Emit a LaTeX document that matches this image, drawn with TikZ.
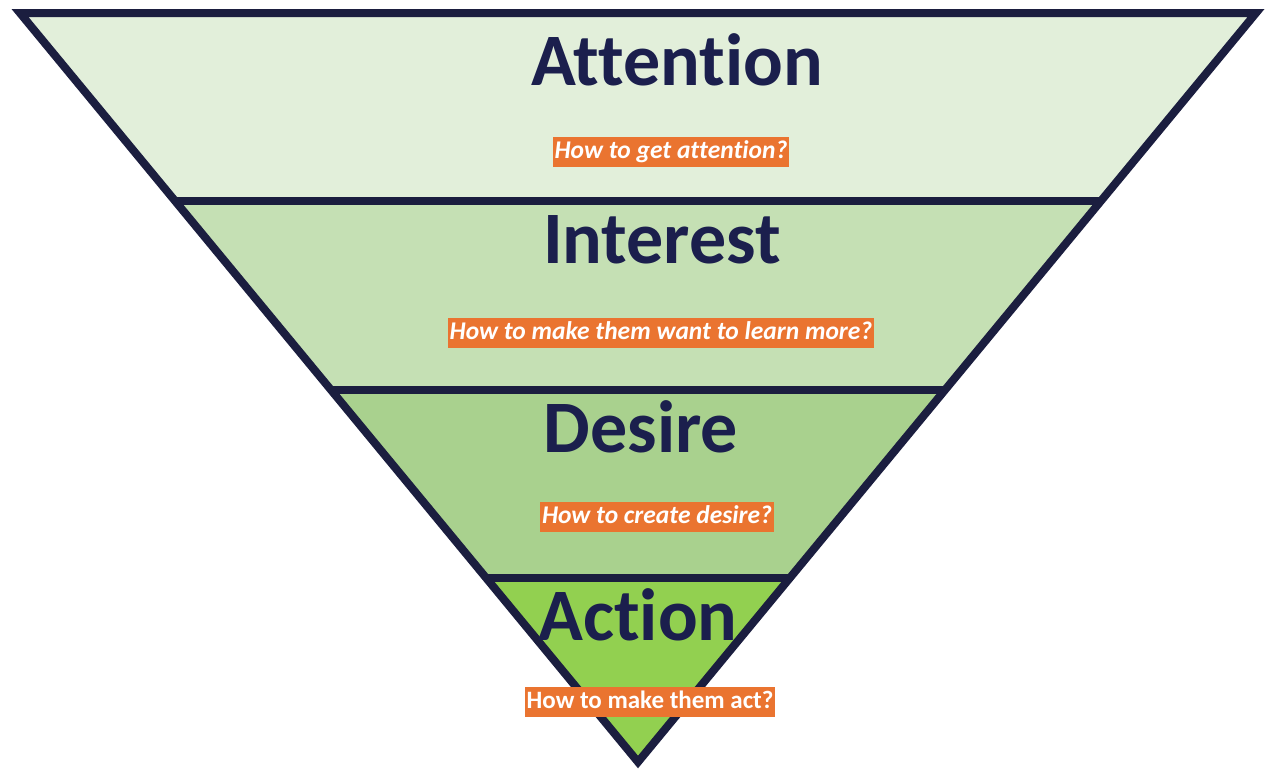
\documentclass[tikz,border=0pt]{standalone}
\usepackage{fontspec}
\setmainfont[Ligatures=NoCommon]{Carlito}
\usetikzlibrary{calc}
\definecolor{lineNavy}{HTML}{1B1E3F}
\definecolor{textNavy}{HTML}{1B1F4D}
\definecolor{bandA}{HTML}{E2EFDA}
\definecolor{bandB}{HTML}{C5E0B4}
\definecolor{bandC}{HTML}{A9D18E}
\definecolor{bandD}{HTML}{92D050}
\definecolor{qOrange}{HTML}{EA7430}
\begin{document}
\begin{tikzpicture}[x=1pt,y=-1pt,
  title/.style={anchor=base, inner sep=0pt, text=textNavy,
    font=\fontsize{74}{74}\selectfont\bfseries},
  question/.style={fill=qOrange, text=white, inner xsep=2pt, inner ysep=0pt,
    minimum height=30pt, text height=18pt, text depth=5pt,
    font=\fontsize{25.5}{25.5}\selectfont\bfseries\itshape},
  funnelline/.style={draw=lineNavy, line width=8pt}]
\useasboundingbox (0,0) rectangle (1268,772);

% funnel corners
\coordinate (TL) at (20,13);
\coordinate (TR) at (1256,13);
\coordinate (AP) at (638,762);

% band boundaries on the two slanted sides
\coordinate (L1) at ($(TL)!0.251!(AP)$);
\coordinate (R1) at ($(TR)!0.251!(AP)$);
\coordinate (L2) at ($(TL)!0.503!(AP)$);
\coordinate (R2) at ($(TR)!0.503!(AP)$);
\coordinate (L3) at ($(TL)!0.754!(AP)$);
\coordinate (R3) at ($(TR)!0.754!(AP)$);

% band fills
\fill[bandA] (TL) -- (TR) -- (R1) -- (L1) -- cycle;
\fill[bandB] (L1) -- (R1) -- (R2) -- (L2) -- cycle;
\fill[bandC] (L2) -- (R2) -- (R3) -- (L3) -- cycle;
\fill[bandD] (L3) -- (R3) -- (AP) -- cycle;

% outline and dividers
\draw[funnelline] (L1) -- (R1);
\draw[funnelline] (L2) -- (R2);
\draw[funnelline] (L3) -- (R3);
\draw[funnelline, line join=miter] (TL) -- (TR) -- (AP) -- cycle;

% stage titles
\node[title] (attention) at (677,85) {Attention};
\node[title] (interest) at (662,263) {Interest};
\node[title] (desire) at (641,452) {Desire};
\node[title] (action) at (638,640) {Action};

% guiding questions
\node[question] (qattention) at (671,152) {How to get attention?};
\node[question] (qinterest) at (661,333) {How to make them want to learn more?};
\node[question] (qdesire) at (657,517) {How to create desire?};
\node[question, font=\fontsize{25}{25}\selectfont\bfseries] (qaction) at (650,702) {How to make them act?};
\end{tikzpicture}
\end{document}
